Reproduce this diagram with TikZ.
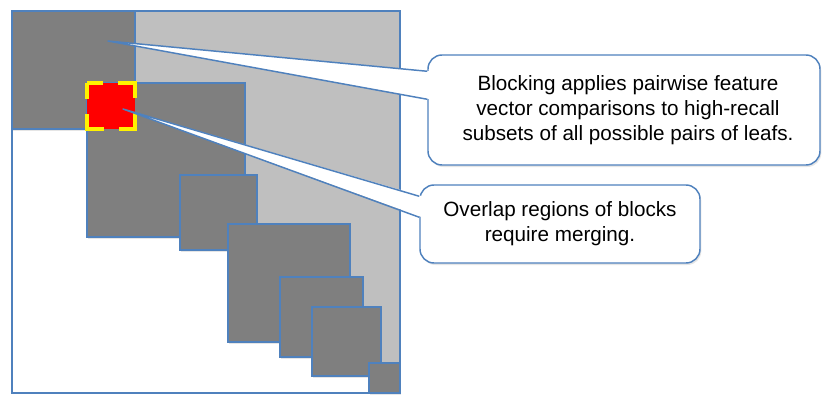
\documentclass[tikz,border=0pt]{standalone}
\usepackage{fontspec}
\setmainfont{Liberation Sans}
\usetikzlibrary{calc,shadows}

\definecolor{blkblue}{RGB}{79,129,189}
\definecolor{darkblk}{RGB}{127,127,127}
\definecolor{lightblk}{RGB}{191,191,191}

\tikzset{
  blk/.style={draw=blkblue, line width=1.1pt, fill=darkblk,
    drop shadow={shadow xshift=1pt, shadow yshift=-1.5pt, opacity=0.2}},
  overlap/.style={draw=yellow, fill=red, line width=2.5pt,
    dash pattern=on 24pt off 11.25pt, dash phase=12pt},
  callbox/.style={draw=blkblue, line width=1.1pt, fill=white, rounded corners=10.5pt,
    align=center, font=\fontsize{15.5}{18.75}\selectfont, inner sep=0pt,
    drop shadow={shadow xshift=1pt, shadow yshift=-1.5pt, opacity=0.2}},
  tail/.style={draw=blkblue, line width=1.1pt, line join=round}
}

\begin{document}
\begin{tikzpicture}[x=0.75pt,y=0.75pt,yscale=-1,xscale=1]
\useasboundingbox (0,0) rectangle (822,394);

% Whole pair matrix
\fill [white] (12,11) rectangle (400,393);
% Upper part (its lower edge is hidden under the blocks)
\fill [lightblk] (135,11) -- (400,11) -- (400,393) -- (375,393) -- (375,370)
  -- (318,370) -- (318,350) -- (285,350) -- (285,335) -- (235,335) -- (235,245)
  -- (185,245) -- (185,230) -- (135,230) -- cycle;
\draw [draw=blkblue, line width=1.1pt] (12,11) rectangle (400,393);

% Blocks along the diagonal
\draw [blk] (12,11) rectangle (135,129);
\draw [blk] (87,83) rectangle (245,237);
\draw [blk] (180,175) rectangle (257,250);
\draw [blk] (228,224) rectangle (350,342);
\draw [blk] (280,277) rectangle (363,357);
\draw [blk] (312,307) rectangle (381,376);
\draw [blk] (369,363) rectangle (400,393);

% Overlap of two blocks
\draw [overlap] (87,83) rectangle (135,129);

% Pointer tips
\coordinate (tipA) at (108,41);
\coordinate (tipB) at (123,109);

% Callout 1
\node [callbox, minimum width=294pt, minimum height=82.5pt] (box1) at (624,110)
  {\hspace*{6pt}Blocking applies pairwise feature\\\hspace*{6pt}vector comparisons to high-recall\\\hspace*{6pt}subsets of all possible pairs of leafs.};
\fill [white] (tipA) -- ($(box1.north west)+(3,17)$) -- ($(box1.north west)+(3,45)$) -- cycle;
\draw [tail] ($(box1.north west)+(0,17)$) -- (tipA) -- ($(box1.north west)+(0,45)$);

% Callout 2
\node [callbox, minimum width=210pt, minimum height=58.5pt] (box2) at (560,224)
  {Overlap regions of blocks\\require merging.};
\fill [white] (tipB) -- ($(box2.north west)+(3,12)$) -- ($(box2.north west)+(3,33)$) -- cycle;
\draw [tail] ($(box2.north west)+(0,12)$) -- (tipB) -- ($(box2.north west)+(0,33)$);

\end{tikzpicture}
\end{document}
